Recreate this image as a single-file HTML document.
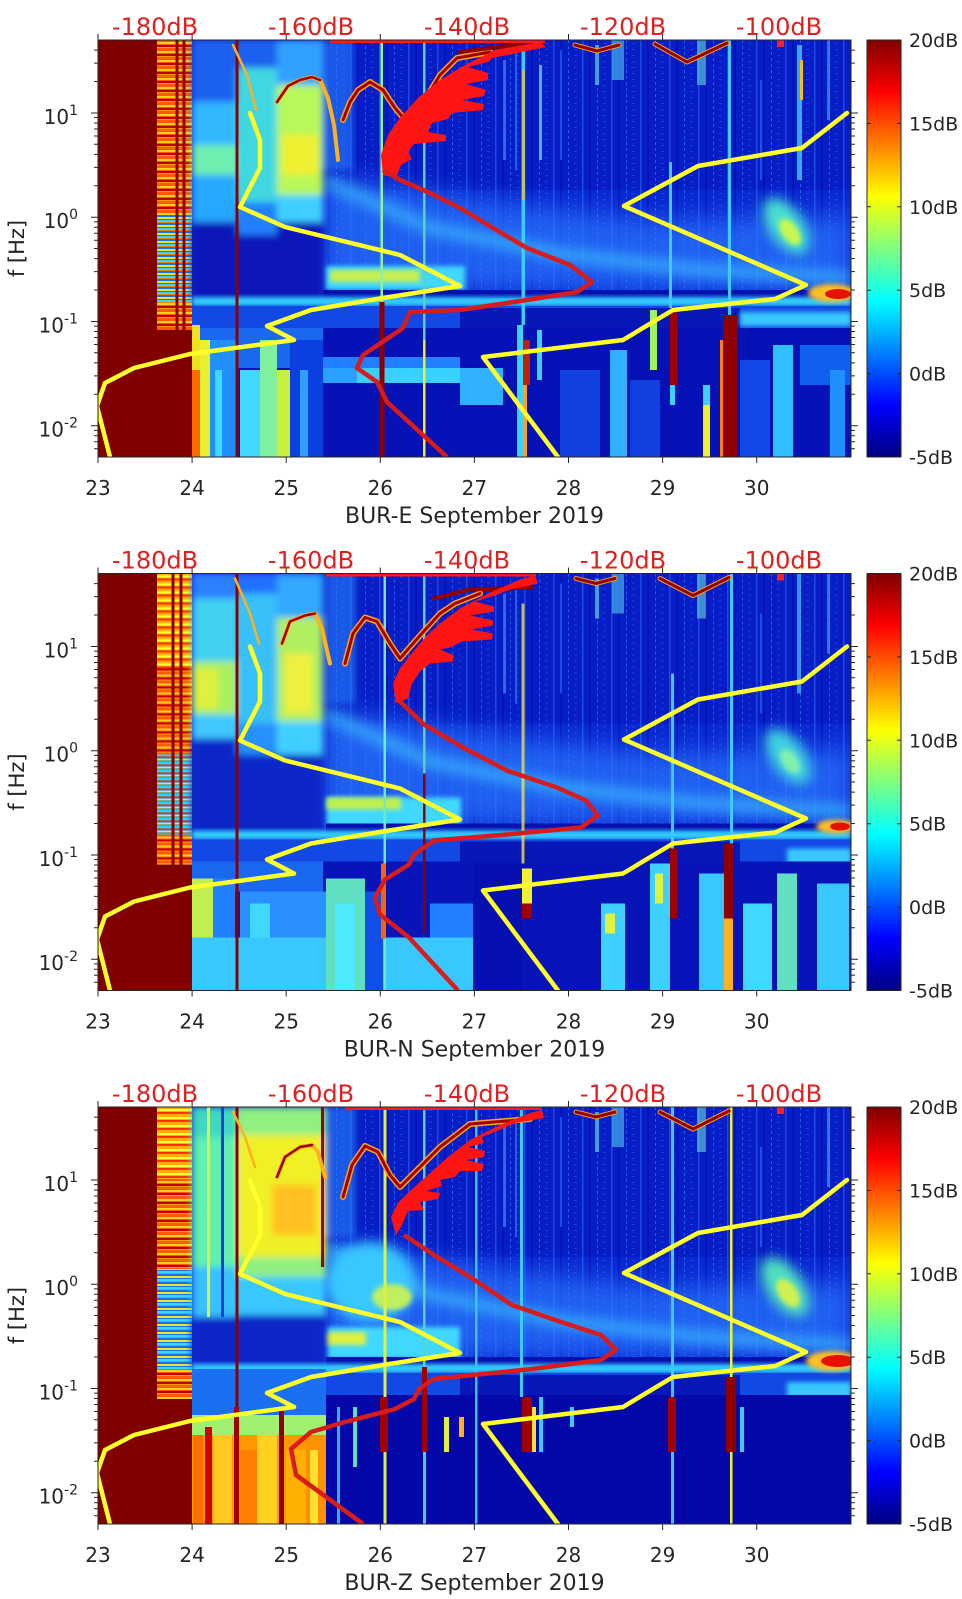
<!DOCTYPE html>
<html><head><meta charset="utf-8"><style>
html,body{margin:0;padding:0;background:#fff;}
svg{display:block;}
text{font-family:"DejaVu Sans","Liberation Sans",sans-serif;}
</style></head><body>
<svg width="962" height="1599" viewBox="0 0 962 1599" xmlns="http://www.w3.org/2000/svg">
<defs>
<clipPath id="pc"><rect x="98" y="0" width="753" height="417"/></clipPath>
<filter id="b3" x="-30%" y="-30%" width="160%" height="160%"><feGaussianBlur stdDeviation="2.5"/></filter>
<filter id="b4" x="-30%" y="-30%" width="160%" height="160%"><feGaussianBlur stdDeviation="3.5"/></filter>
<filter id="b6" x="-30%" y="-30%" width="160%" height="160%"><feGaussianBlur stdDeviation="6"/></filter>
<filter id="b12" x="-30%" y="-30%" width="160%" height="160%"><feGaussianBlur stdDeviation="12"/></filter>
<linearGradient id="jet" x1="0" y1="0" x2="0" y2="1">
<stop offset="0" stop-color="#800000"/><stop offset="0.125" stop-color="#ff0000"/><stop offset="0.375" stop-color="#ffff00"/><stop offset="0.625" stop-color="#00ffff"/><stop offset="0.875" stop-color="#0000ff"/><stop offset="1" stop-color="#000080"/>
</linearGradient>
<pattern id="s1" patternUnits="userSpaceOnUse" x="0" y="0" width="40" height="9">
<rect width="40" height="9" fill="#ff5a00"/><rect y="2" width="40" height="2" fill="#ffd21e"/><rect y="5" width="40" height="2" fill="#c00000"/><rect y="7" width="40" height="1" fill="#ffa000"/>
</pattern>
<pattern id="s2" patternUnits="userSpaceOnUse" x="0" y="0" width="40" height="8">
<rect width="40" height="8" fill="#1a70f0"/><rect y="1" width="40" height="2" fill="#f0e030"/><rect y="4" width="40" height="2" fill="#30d8ff"/><rect y="6" width="40" height="1" fill="#ff8000"/>
</pattern>
<pattern id="s3" patternUnits="userSpaceOnUse" x="0" y="0" width="40" height="8">
<rect width="40" height="8" fill="#ffb000"/><rect y="2" width="40" height="2" fill="#ffff40"/><rect y="5" width="40" height="2" fill="#ff3000"/>
</pattern>
<pattern id="nz" patternUnits="userSpaceOnUse" x="0" y="0" width="29" height="6">
<rect x="2" width="1.5" height="6" fill="#3a80ff" opacity=".45"/><rect x="9" width="2" height="6" fill="#0008a0" opacity=".4"/><rect x="17" width="1" height="3" fill="#40a0ff" opacity=".5"/><rect x="23" y="3" width="3" height="1" fill="#2860ff" opacity=".5"/>
</pattern>
<g id="yl" fill="none" stroke="#ffff2a" stroke-width="4.5" stroke-linejoin="round" stroke-linecap="round">
<polyline points="250,73 260,100 260,128 240,167 285,187 400,215 460,246 383,258 311,270 267,286 294,300 190,314 134,328 105,343 97,366 110,417"/>
<polyline points="847,73 802,108 698,126 624,166 806,245 775,259 673,270 623,300 483,317 558,417"/>
</g>
<g id="ax" fill="none" stroke="#262626" stroke-width="1">
<rect x="98" y="0" width="753" height="417"/>
<path d="M98,417v6M192.1,417v6M286.2,417v6M380.3,417v6M474.4,417v6M568.5,417v6M662.6,417v6M756.7,417v6M98,0v-6M192.1,0v-6M286.2,0v-6M380.3,0v-6M474.4,0v-6M568.5,0v-6M662.6,0v-6M756.7,0v-6"/>
<path d="M91,72.95h7M91,177.2h7M91,281.45h7M91,385.7h7M851,72.95h7M851,177.2h7M851,281.45h7M851,385.7h7"/>
<path d="M94,10.1h4M94,23.1h4M94,41.5h4M94,77.6h4M94,83h4M94,89h4M94,96h4M94,104.3h4M94,114.4h4M94,127.4h4M94,145.7h4M94,181.9h4M94,187.2h4M94,193.3h4M94,200.2h4M94,208.5h4M94,218.6h4M94,231.6h4M94,250h4M94,286.1h4M94,291.5h4M94,297.5h4M94,304.5h4M94,312.75h4M94,322.85h4M94,335.9h4M94,354.2h4M94,390.4h4M94,395.7h4M94,401.8h4M94,408.7h4"/>
<path d="M851,10.1h4M851,23.1h4M851,41.5h4M851,77.6h4M851,83h4M851,89h4M851,96h4M851,104.3h4M851,114.4h4M851,127.4h4M851,145.7h4M851,181.9h4M851,187.2h4M851,193.3h4M851,200.2h4M851,208.5h4M851,218.6h4M851,231.6h4M851,250h4M851,286.1h4M851,291.5h4M851,297.5h4M851,304.5h4M851,312.75h4M851,322.85h4M851,335.9h4M851,354.2h4M851,390.4h4M851,395.7h4M851,401.8h4M851,408.7h4"/>
<rect x="867" y="0" width="34" height="417" fill="url(#jet)"/>
<path d="M897,83.4h4M897,166.8h4M897,250.2h4M897,333.6h4M867,83.4h4M867,166.8h4M867,250.2h4M867,333.6h4"/>
</g>
<g id="rightcommon">
<rect x="323" y="0" width="528" height="150" fill="#0616bc" opacity=".55"/>
<rect x="323" y="0" width="528" height="250" fill="url(#nz)"/>
<polygon points="323,135 480,160 650,180 851,175 851,250 323,250" fill="#2a78ff" opacity=".7" filter="url(#b12)"/>
<polyline points="323,140 430,188 560,214 700,230 851,238" fill="none" stroke="#40c8ff" stroke-width="14" opacity=".6" filter="url(#b6)"/>
<rect x="503" y="20" width="3" height="100" fill="#40a0ff" opacity=".6"/>
<rect x="515" y="10" width="2" height="120" fill="#40a0ff" opacity=".5"/>
<rect x="595" y="5" width="4" height="40" fill="#60d0e0" opacity=".7"/>
<rect x="612" y="0" width="12" height="40" fill="#50c8f0" opacity=".6"/>
<rect x="697" y="0" width="9" height="45" fill="#60d8d0" opacity=".6"/>
<rect x="827" y="0" width="3" height="80" fill="#40b0ff" opacity=".6"/>
<rect x="560" y="10" width="2" height="110" fill="#3070ff" opacity=".6"/>
<rect x="760" y="40" width="2" height="100" fill="#3070ff" opacity=".6"/>
</g>
</defs>

<!-- ================= PANEL 1 ================= -->
<g transform="translate(0,40)">
<g clip-path="url(#pc)">
<rect x="98" y="0" width="753" height="417" fill="#0a28d2"/>
<use href="#rightcommon"/>
<ellipse cx="786" cy="186" rx="17" ry="32" transform="rotate(-35 786 186)" fill="#48e0d0" filter="url(#b6)"/>
<ellipse cx="790" cy="192" rx="8" ry="15" transform="rotate(-35 790 192)" fill="#c8f850" filter="url(#b3)"/>
<rect x="325" y="226" width="140" height="24" fill="#40d8ff" filter="url(#b3)"/>
<rect x="330" y="230" width="90" height="12" fill="#c8f050" filter="url(#b3)"/>
<rect x="323" y="250" width="528" height="8" fill="#0612b0"/>
<rect x="98" y="0" width="59" height="417" fill="#800000"/>
<rect x="157" y="290" width="35" height="127" fill="#800000"/>
<rect x="157" y="0" width="35" height="175" fill="url(#s1)"/>
<rect x="157" y="175" width="35" height="88" fill="url(#s2)"/>
<rect x="157" y="263" width="35" height="27" fill="url(#s1)"/>
<rect x="175.5" y="0" width="3" height="290" fill="#8a0000"/>
<rect x="182.5" y="0" width="3" height="290" fill="#8a0000"/>
<g filter="url(#b4)">
<rect x="192" y="0" width="131" height="262" fill="#0818b8"/>
<rect x="192" y="0" width="45" height="62" fill="#1a60f0"/>
<rect x="192" y="62" width="45" height="43" fill="#30b8ff"/>
<rect x="192" y="105" width="45" height="30" fill="#70f0b0"/>
<rect x="192" y="135" width="45" height="47" fill="#28a8ff"/>
<rect x="237" y="0" width="40" height="28" fill="#1a60f0"/>
<rect x="237" y="28" width="40" height="134" fill="#40d8e0"/>
<rect x="237" y="162" width="40" height="33" fill="#2080ff"/>
<rect x="277" y="0" width="46" height="45" fill="#30a0ff"/>
<rect x="277" y="45" width="46" height="110" fill="#b8f858"/>
<rect x="282" y="95" width="36" height="40" fill="#f0f030"/>
<rect x="277" y="155" width="46" height="27" fill="#40d0ff"/>
<rect x="323" y="0" width="30" height="130" fill="#2a80ff" opacity=".6"/>
</g>
<rect x="192" y="257" width="659" height="9" fill="#30d0ff" filter="url(#b3)"/>
<rect x="192" y="266" width="659" height="22" fill="#1248e4"/>
<rect x="460" y="268" width="280" height="20" fill="#0818b8"/>
<rect x="740" y="272" width="111" height="14" fill="#38c8ff" filter="url(#b3)"/>
<ellipse cx="832" cy="253" rx="24" ry="9" fill="#ffc020" filter="url(#b3)"/>
<ellipse cx="838" cy="254" rx="13" ry="5" fill="#e81000"/>
<rect x="192" y="288" width="659" height="129" fill="#0712b6"/>
<rect x="192" y="288" width="131" height="40" fill="#1a68f0"/>
<rect x="192" y="285" width="8" height="45" fill="#f0e020"/>
<rect x="192" y="330" width="8" height="87" fill="#ff6a00"/>
<rect x="200" y="300" width="10" height="117" fill="#e8f030"/>
<rect x="210" y="300" width="27" height="117" fill="#2090ff"/>
<rect x="215" y="330" width="7" height="87" fill="#40d8ff"/>
<rect x="240" y="330" width="20" height="87" fill="#40d8ff"/>
<rect x="260" y="300" width="17" height="117" fill="#80f0a0"/>
<rect x="277" y="330" width="13" height="87" fill="#c8f040"/>
<rect x="290" y="300" width="33" height="117" fill="#0a40e0"/>
<rect x="300" y="330" width="8" height="87" fill="#30a0ff"/>
<rect x="323" y="317" width="137" height="11" fill="#2080ff"/>
<rect x="323" y="328" width="34" height="15" fill="#2aa0ff"/>
<rect x="357" y="328" width="133" height="15" fill="#38d0ff"/>
<rect x="460" y="328" width="43" height="37" fill="#30b0ff"/>
<rect x="560" y="330" width="40" height="87" fill="#1040e0"/>
<rect x="630" y="340" width="30" height="77" fill="#1040e0"/>
<rect x="740" y="320" width="30" height="97" fill="#1248e8"/>
<rect x="517" y="285" width="6" height="132" fill="#40d0ff"/>
<rect x="523" y="300" width="7" height="45" fill="#c02000"/>
<rect x="523" y="345" width="4" height="72" fill="#ffa020"/>
<rect x="537" y="290" width="5" height="50" fill="#40d0ff"/>
<rect x="610" y="310" width="17" height="107" fill="#30b0ff"/>
<rect x="650" y="270" width="7" height="60" fill="#a0f060"/>
<rect x="669" y="122" width="3" height="146" fill="#40c8ff"/>
<rect x="670" y="270" width="7" height="75" fill="#a00000"/>
<rect x="670" y="345" width="5" height="20" fill="#40d0ff"/>
<rect x="703" y="345" width="7" height="20" fill="#40d0ff"/>
<rect x="703" y="365" width="7" height="52" fill="#f0f030"/>
<rect x="728" y="0" width="3" height="275" fill="#40c8ff"/>
<rect x="723" y="275" width="14" height="142" fill="#900000"/>
<rect x="720" y="300" width="3" height="117" fill="#ff8000"/>
<rect x="773" y="305" width="20" height="112" fill="#30c0ff"/>
<rect x="800" y="305" width="51" height="40" fill="#1060f0"/>
<rect x="830" y="330" width="15" height="87" fill="#2090ff"/>
<rect x="235.5" y="0" width="3" height="417" fill="#8a0000"/>
<rect x="380.5" y="0" width="2.5" height="262" fill="#90f0a0"/>
<rect x="379.5" y="262" width="5" height="155" fill="#8a0000"/>
<rect x="423" y="0" width="2.5" height="417" fill="#60d0c0"/>
<rect x="423" y="300" width="2.5" height="117" fill="#f0f030"/>
<rect x="521.5" y="0" width="3.5" height="285" fill="#40c8ff"/>
<rect x="522" y="30" width="3" height="130" fill="#f0c030" opacity=".7"/>
<rect x="539" y="25" width="3" height="95" fill="#60d8e0" opacity=".8"/>
<rect x="797" y="5" width="5" height="135" fill="#40c8ff" opacity=".8"/>
<rect x="800" y="20" width="3" height="40" fill="#f0c020"/>
<rect x="777" y="0" width="7" height="7" fill="#ff2020"/>
<g fill="none" stroke-linejoin="round" stroke-linecap="round">
<polyline points="233,5 247,35 256,70" stroke="#ffb020" stroke-width="2.5"/>
<polyline points="277,62 288,46 300,40 312,37 320,40 328,58 334,85 338,120" stroke="#ffb020" stroke-width="4"/>
<polyline points="277,62 288,46 300,40 312,37 320,40" stroke="#a00000" stroke-width="2.5"/>
<polyline points="343,80 350,62 358,50 370,42 383,50 395,68 407,82 420,68 440,35 457,18 490,12" stroke="#ffa020" stroke-width="6"/>
<polyline points="343,80 350,62 358,50 370,42 383,50 395,68 407,82 420,68 440,35 457,18 490,12" stroke="#a00000" stroke-width="3"/>
<polyline points="460,12 490,8 523,4" stroke="#900000" stroke-width="4"/>
<polyline points="575,5 597,11 619,5" stroke="#ffa020" stroke-width="5"/>
<polyline points="575,5 597,11 619,5" stroke="#900000" stroke-width="3"/>
<polyline points="655,4 687,22 727,3" stroke="#ffa020" stroke-width="5"/>
<polyline points="655,4 687,22 727,3" stroke="#900000" stroke-width="3"/>
</g>
<rect x="330" y="-2" width="215" height="5" fill="#ff1a1a"/>
<polygon points="383,135 381,115 388,95 400,78 418,58 440,40 465,25 495,10 540,2 546,7 512,14 492,18 488,22 468,27 488,33 488,40 466,44 486,50 484,56 462,60 484,64 483,70 452,73 448,79 432,83 428,92 446,95 446,101 414,104 408,112 412,119 401,125 396,138" fill="#ff1414"/>
<path d="M383,130 L400,140 L430,153 L460,168 L493,188 L527,208 L570,225 L592,242 L577,252 L527,260 L460,270 L410,272 L403,288 L363,315 L357,328 L377,342 L387,362 L447,417" fill="none" stroke="#d81c1c" stroke-width="4.5" stroke-linejoin="round"/>
<use href="#yl"/>
</g>
<use href="#ax"/>
<g font-size="24" fill="#dd2020" text-anchor="middle">
<text x="155" y="-5">-180dB</text><text x="311" y="-5">-160dB</text><text x="467" y="-5">-140dB</text><text x="623" y="-5">-120dB</text><text x="779" y="-5">-100dB</text>
</g>
<g font-size="20" fill="#262626" text-anchor="end">
<text x="78" y="84">10<tspan dy="-9" font-size="14">1</tspan></text>
<text x="78" y="188">10<tspan dy="-9" font-size="14">0</tspan></text>
<text x="78" y="292.5">10<tspan dy="-9" font-size="14">-1</tspan></text>
<text x="78" y="396.7">10<tspan dy="-9" font-size="14">-2</tspan></text>
</g>
<g font-size="20" fill="#262626" text-anchor="middle">
<text x="98" y="455">23</text><text x="192.1" y="455">24</text><text x="286.2" y="455">25</text><text x="380.3" y="455">26</text><text x="474.4" y="455">27</text><text x="568.5" y="455">28</text><text x="662.6" y="455">29</text><text x="756.7" y="455">30</text>
</g>
<text x="474.5" y="483" font-size="22" fill="#262626" text-anchor="middle">BUR-E September 2019</text>
<text transform="translate(18,208.5) rotate(-90)" x="0" y="6" font-size="21" fill="#262626" text-anchor="middle">f [Hz]</text>
<g font-size="19" fill="#262626">
<text x="909" y="7">20dB</text><text x="909" y="90.4">15dB</text><text x="909" y="173.8">10dB</text><text x="909" y="257.2">5dB</text><text x="909" y="340.6">0dB</text><text x="909" y="424">-5dB</text>
</g>
</g>

<!-- ================= PANEL 2 ================= -->
<g transform="translate(0,573.5)">
<g clip-path="url(#pc)">
<rect x="98" y="0" width="753" height="417" fill="#0a28d2"/>
<use href="#rightcommon"/>
<ellipse cx="788" cy="183" rx="17" ry="32" transform="rotate(-35 788 183)" fill="#40d0e0" filter="url(#b6)"/>
<ellipse cx="790" cy="188" rx="8" ry="14" transform="rotate(-35 790 188)" fill="#80f0b0" filter="url(#b3)"/>
<rect x="326" y="224" width="135" height="30" fill="#40d8ff" filter="url(#b3)"/>
<rect x="326" y="224" width="75" height="12" fill="#c0f050" filter="url(#b3)"/>
<rect x="326" y="250" width="525" height="8" fill="#0612b0"/>
<rect x="98" y="0" width="59" height="417" fill="#800000"/>
<rect x="157" y="291" width="35" height="126" fill="#800000"/>
<rect x="157" y="0" width="35" height="95" fill="url(#s3)"/>
<rect x="157" y="95" width="35" height="86" fill="url(#s1)"/>
<rect x="157" y="181" width="35" height="80" fill="url(#s2)"/>
<rect x="157" y="261" width="35" height="30" fill="url(#s1)"/>
<rect x="171.5" y="0" width="3" height="291" fill="#8a0000"/>
<rect x="179.5" y="0" width="3" height="291" fill="#8a0000"/>
<g filter="url(#b4)">
<rect x="192" y="0" width="131" height="262" fill="#0a28c8"/>
<rect x="192" y="0" width="45" height="25" fill="#2a80ff"/>
<rect x="192" y="25" width="45" height="63" fill="#40d0f0"/>
<rect x="192" y="88" width="45" height="53" fill="#a8f060"/>
<rect x="194" y="95" width="24" height="40" fill="#e0f040"/>
<rect x="192" y="141" width="45" height="24" fill="#40c8ff"/>
<rect x="237" y="0" width="40" height="20" fill="#2070ff"/>
<rect x="237" y="20" width="40" height="130" fill="#38c0f8"/>
<rect x="237" y="150" width="40" height="31" fill="#2890ff"/>
<rect x="277" y="0" width="46" height="44" fill="#30a8ff"/>
<rect x="277" y="44" width="46" height="104" fill="#b0f060"/>
<rect x="285" y="80" width="27" height="60" fill="#f0f040"/>
<rect x="277" y="148" width="46" height="33" fill="#40d0ff"/>
<rect x="326" y="0" width="30" height="130" fill="#2a80ff" opacity=".6"/>
</g>
<rect x="192" y="257" width="659" height="9" fill="#30d0ff" filter="url(#b3)"/>
<rect x="192" y="266" width="659" height="22" fill="#1248e4"/>
<rect x="460" y="268" width="280" height="20" fill="#0818b8"/>
<rect x="787" y="275" width="64" height="16" fill="#38c8ff" filter="url(#b3)"/>
<ellipse cx="836" cy="253" rx="20" ry="7" fill="#ffc020" filter="url(#b3)"/>
<ellipse cx="840" cy="253" rx="10" ry="4" fill="#e81000"/>
<rect x="192" y="288" width="659" height="129" fill="#0814b8"/>
<rect x="192" y="288" width="131" height="30" fill="#1a68f0"/>
<rect x="192" y="305" width="21" height="112" fill="#c0f050"/>
<rect x="213" y="305" width="22" height="112" fill="#2080ff"/>
<rect x="240" y="318" width="86" height="46" fill="#2a90ff"/>
<rect x="192" y="364" width="290" height="53" fill="#38c8ff"/>
<rect x="250" y="330" width="20" height="34" fill="#40d8ff"/>
<rect x="326" y="305" width="39" height="112" fill="#60e0c0"/>
<rect x="335" y="330" width="20" height="87" fill="#50e8ff"/>
<rect x="365" y="318" width="18" height="99" fill="#1050e8"/>
<rect x="430" y="330" width="43" height="34" fill="#2080ff"/>
<rect x="473" y="290" width="49" height="127" fill="#0610b0"/>
<rect x="601" y="330" width="24" height="87" fill="#40d0ff"/>
<rect x="605" y="340" width="10" height="20" fill="#e0f040"/>
<rect x="650" y="290" width="20" height="127" fill="#40d0ff"/>
<rect x="655" y="300" width="8" height="30" fill="#e0f040"/>
<rect x="699" y="300" width="25" height="117" fill="#38c8ff"/>
<rect x="743" y="330" width="29" height="87" fill="#40d8ff"/>
<rect x="777" y="300" width="20" height="117" fill="#60e0c0"/>
<rect x="817" y="310" width="32" height="107" fill="#38c8ff"/>
<rect x="522" y="295" width="10" height="35" fill="#f0f030"/>
<rect x="522" y="330" width="10" height="15" fill="#a00000"/>
<rect x="670" y="275" width="7" height="70" fill="#a00000"/>
<rect x="724" y="270" width="9" height="75" fill="#900000"/>
<rect x="724" y="345" width="9" height="72" fill="#ffb020"/>
<rect x="235.5" y="0" width="3" height="417" fill="#8a0000"/>
<rect x="383.5" y="0" width="2.5" height="417" fill="#70e8c0"/>
<rect x="381" y="290" width="5" height="75" fill="#ff6000"/>
<rect x="423" y="0" width="2.5" height="360" fill="#60d0c0"/>
<rect x="423" y="200" width="2.5" height="160" fill="#8a0000"/>
<rect x="521.5" y="30" width="3" height="260" fill="#f0e040" opacity=".8"/>
<rect x="671" y="100" width="3" height="175" fill="#40c8ff"/>
<rect x="730" y="0" width="3" height="270" fill="#40c8ff"/>
<rect x="797" y="0" width="4" height="120" fill="#40c8ff" opacity=".7"/>
<rect x="777" y="0" width="7" height="7" fill="#ff2020"/>
<g fill="none" stroke-linejoin="round" stroke-linecap="round">
<polyline points="235,5 250,40 259,70" stroke="#ffb020" stroke-width="2.5"/>
<polyline points="282,70 290,48 305,42 315,40 322,55 330,90" stroke="#ffb020" stroke-width="4"/>
<polyline points="282,70 290,48 305,42 315,40" stroke="#a00000" stroke-width="2.5"/>
<polyline points="345,90 353,60 365,44 377,48 390,70 400,85 420,62 440,40 455,30 480,20" stroke="#ffa020" stroke-width="6"/>
<polyline points="345,90 353,60 365,44 377,48 390,70 400,85 420,62 440,40 455,30 480,20" stroke="#a00000" stroke-width="3"/>
<polyline points="434,25 470,16 532,14" stroke="#900000" stroke-width="4"/>
<polyline points="576,5 596,10 615,5" stroke="#ffa020" stroke-width="5"/>
<polyline points="576,5 596,10 615,5" stroke="#900000" stroke-width="3"/>
<polyline points="660,5 693,22 729,4" stroke="#ffa020" stroke-width="5"/>
<polyline points="660,5 693,22 729,4" stroke="#900000" stroke-width="3"/>
</g>
<rect x="326" y="-2" width="210" height="5" fill="#ff1a1a"/>
<polygon points="396,130 393,110 400,95 410,82 425,64 440,50 460,35 488,20 520,6 535,2 538,10 510,16 495,22 475,28 494,33 494,38 470,42 493,47 493,52 472,56 493,60 492,66 462,68 450,74 440,76 454,82 453,88 430,90 420,98 412,110 408,125" fill="#ff1414"/>
<path d="M399,127 L424,151 L463,174 L507,197 L557,214 L586,227 L598,242 L581,254 L507,261 L434,267 L414,281 L409,291 L385,306 L375,324 L380,341 L409,364 L458,417" fill="none" stroke="#d81c1c" stroke-width="4.5" stroke-linejoin="round"/>
<use href="#yl"/>
</g>
<use href="#ax"/>
<g font-size="24" fill="#dd2020" text-anchor="middle">
<text x="155" y="-5">-180dB</text><text x="311" y="-5">-160dB</text><text x="467" y="-5">-140dB</text><text x="623" y="-5">-120dB</text><text x="779" y="-5">-100dB</text>
</g>
<g font-size="20" fill="#262626" text-anchor="end">
<text x="78" y="84">10<tspan dy="-9" font-size="14">1</tspan></text>
<text x="78" y="188">10<tspan dy="-9" font-size="14">0</tspan></text>
<text x="78" y="292.5">10<tspan dy="-9" font-size="14">-1</tspan></text>
<text x="78" y="396.7">10<tspan dy="-9" font-size="14">-2</tspan></text>
</g>
<g font-size="20" fill="#262626" text-anchor="middle">
<text x="98" y="455">23</text><text x="192.1" y="455">24</text><text x="286.2" y="455">25</text><text x="380.3" y="455">26</text><text x="474.4" y="455">27</text><text x="568.5" y="455">28</text><text x="662.6" y="455">29</text><text x="756.7" y="455">30</text>
</g>
<text x="474.5" y="483" font-size="22" fill="#262626" text-anchor="middle">BUR-N September 2019</text>
<text transform="translate(18,208.5) rotate(-90)" x="0" y="6" font-size="21" fill="#262626" text-anchor="middle">f [Hz]</text>
<g font-size="19" fill="#262626">
<text x="909" y="7">20dB</text><text x="909" y="90.4">15dB</text><text x="909" y="173.8">10dB</text><text x="909" y="257.2">5dB</text><text x="909" y="340.6">0dB</text><text x="909" y="424">-5dB</text>
</g>
</g>

<!-- ================= PANEL 3 ================= -->
<g transform="translate(0,1107)">
<g clip-path="url(#pc)">
<rect x="98" y="0" width="753" height="417" fill="#0a28d2"/>
<use href="#rightcommon"/>
<ellipse cx="785" cy="180" rx="18" ry="34" transform="rotate(-35 785 180)" fill="#50e0c0" filter="url(#b6)"/>
<ellipse cx="788" cy="186" rx="9" ry="16" transform="rotate(-35 788 186)" fill="#d0f050" filter="url(#b3)"/>
<ellipse cx="370" cy="175" rx="45" ry="40" fill="#38c8ff" filter="url(#b6)"/>
<ellipse cx="392" cy="190" rx="20" ry="13" fill="#c0f060" filter="url(#b3)"/>
<rect x="326" y="220" width="134" height="32" fill="#40d8ff" filter="url(#b3)"/>
<rect x="326" y="225" width="40" height="13" fill="#e0f040" filter="url(#b3)"/>
<rect x="326" y="250" width="525" height="8" fill="#0612b0"/>
<rect x="98" y="0" width="59" height="417" fill="#800000"/>
<rect x="157" y="292" width="35" height="125" fill="#800000"/>
<rect x="157" y="0" width="35" height="72" fill="url(#s3)"/>
<rect x="157" y="72" width="35" height="90" fill="url(#s1)"/>
<rect x="157" y="162" width="35" height="100" fill="url(#s2)"/>
<rect x="157" y="262" width="35" height="30" fill="url(#s1)"/>
<g filter="url(#b4)">
<rect x="192" y="0" width="134" height="262" fill="#0a28c8"/>
<rect x="192" y="0" width="45" height="30" fill="#40d8c0"/>
<rect x="192" y="30" width="45" height="130" fill="#60f0b0"/>
<rect x="192" y="160" width="45" height="50" fill="#38c0ff"/>
<rect x="237" y="0" width="89" height="28" fill="#90f080"/>
<rect x="237" y="28" width="89" height="122" fill="#f0f028"/>
<rect x="272" y="78" width="44" height="50" fill="#ffc020"/>
<rect x="237" y="150" width="89" height="20" fill="#90f080"/>
<rect x="237" y="170" width="89" height="38" fill="#38c8ff"/>
<rect x="326" y="0" width="30" height="130" fill="#2a80ff" opacity=".6"/>
</g>
<rect x="207" y="0" width="3" height="210" fill="#e0f040"/>
<rect x="221" y="0" width="3" height="210" fill="#1040e0"/>
<rect x="192" y="257" width="659" height="9" fill="#30d0ff" filter="url(#b3)"/>
<rect x="192" y="266" width="659" height="22" fill="#1248e4"/>
<rect x="460" y="268" width="280" height="20" fill="#0818b8"/>
<rect x="787" y="275" width="64" height="16" fill="#38c8ff" filter="url(#b3)"/>
<ellipse cx="832" cy="254" rx="26" ry="10" fill="#ffc020" filter="url(#b3)"/>
<ellipse cx="838" cy="254" rx="17" ry="6" fill="#e81000"/>
<rect x="326" y="288" width="525" height="129" fill="#0408a8"/>
<rect x="192" y="262" width="134" height="46" fill="#1a70f0"/>
<rect x="192" y="308" width="134" height="20" fill="#a0f070"/>
<rect x="192" y="328" width="134" height="89" fill="#ff9800"/>
<rect x="193" y="328" width="10" height="89" fill="#ff7000"/>
<rect x="205" y="320" width="7" height="97" fill="#d00000"/>
<rect x="213" y="328" width="19" height="89" fill="#ffc820"/>
<rect x="240" y="343" width="17" height="74" fill="#ff8000"/>
<rect x="257" y="328" width="20" height="89" fill="#ffd020"/>
<rect x="279" y="300" width="5" height="117" fill="#900000"/>
<rect x="286" y="343" width="20" height="74" fill="#ffb000"/>
<rect x="306" y="328" width="20" height="89" fill="#ff9000"/>
<rect x="310" y="343" width="8" height="74" fill="#ffe030"/>
<rect x="337" y="300" width="3" height="117" fill="#30b0ff"/>
<rect x="353" y="300" width="4" height="60" fill="#60e0c0"/>
<rect x="383.5" y="0" width="3" height="417" fill="#e0f040"/>
<rect x="380" y="290" width="8" height="55" fill="#a00000"/>
<rect x="422" y="260" width="5" height="85" fill="#a00000"/>
<rect x="423" y="345" width="3" height="72" fill="#40d0ff"/>
<rect x="423" y="0" width="2.5" height="260" fill="#60d0c0"/>
<rect x="444" y="310" width="5" height="35" fill="#e0f040"/>
<rect x="459" y="310" width="5" height="20" fill="#ffb020"/>
<rect x="475" y="0" width="2.5" height="417" fill="#40c0ff"/>
<rect x="520" y="0" width="3" height="290" fill="#40c8ff"/>
<rect x="522" y="290" width="10" height="55" fill="#a00000"/>
<rect x="532" y="300" width="4" height="45" fill="#f0e040"/>
<rect x="539" y="290" width="4" height="55" fill="#40c8ff"/>
<rect x="570" y="300" width="4" height="20" fill="#40c8ff"/>
<rect x="671" y="0" width="3" height="417" fill="#40c8ff"/>
<rect x="668" y="290" width="8" height="55" fill="#a00000"/>
<rect x="730" y="0" width="2.5" height="417" fill="#f0f030"/>
<rect x="726" y="270" width="10" height="75" fill="#900000"/>
<rect x="740" y="300" width="4" height="45" fill="#40c8ff"/>
<rect x="235.5" y="0" width="3" height="417" fill="#8a0000"/>
<rect x="234" y="300" width="5" height="117" fill="#a00000"/>
<rect x="321" y="0" width="3" height="160" fill="#a00000"/>
<rect x="777" y="0" width="7" height="7" fill="#ff2020"/>
<g fill="none" stroke-linejoin="round" stroke-linecap="round">
<polyline points="233,5 245,30 255,60" stroke="#ffb020" stroke-width="2.5"/>
<polyline points="277,70 285,50 300,40 312,38 318,45 325,70" stroke="#ffb020" stroke-width="4"/>
<polyline points="277,70 285,50 300,40 312,38" stroke="#a00000" stroke-width="2.5"/>
<polyline points="343,90 352,58 365,39 378,45 390,68 400,80 420,60 440,40 470,17 530,12" stroke="#ffa020" stroke-width="6"/>
<polyline points="343,90 352,58 365,39 378,45 390,68 400,80 420,60 440,40 470,17 530,12" stroke="#a00000" stroke-width="3"/>
<polyline points="576,5 596,10 615,5" stroke="#ffa020" stroke-width="5"/>
<polyline points="576,5 596,10 615,5" stroke="#900000" stroke-width="3"/>
<polyline points="660,5 693,22 729,4" stroke="#ffa020" stroke-width="5"/>
<polyline points="660,5 693,22 729,4" stroke="#900000" stroke-width="3"/>
</g>
<rect x="345" y="-2" width="197" height="5" fill="#ff1a1a"/>
<polygon points="396,128 391,110 398,96 410,84 428,68 448,50 470,33 500,18 530,6 542,3 544,11 515,16 497,24 482,30 484,36 468,40 485,44 484,50 466,53 484,57 482,64 460,64 455,70 440,73 442,79 426,84 440,86 438,92 420,95 424,103 408,104 402,118" fill="#ff1414"/>
<path d="M404,128 L434,148 L473,172 L512,198 L561,215 L601,228 L616,243 L601,253 L532,262 L434,272 L419,282 L414,292 L395,302 L345,315 L311,325 L291,342 L296,368 L363,417" fill="none" stroke="#d81c1c" stroke-width="4.5" stroke-linejoin="round"/>
<use href="#yl"/>
</g>
<use href="#ax"/>
<g font-size="24" fill="#dd2020" text-anchor="middle">
<text x="155" y="-5">-180dB</text><text x="311" y="-5">-160dB</text><text x="467" y="-5">-140dB</text><text x="623" y="-5">-120dB</text><text x="779" y="-5">-100dB</text>
</g>
<g font-size="20" fill="#262626" text-anchor="end">
<text x="78" y="84">10<tspan dy="-9" font-size="14">1</tspan></text>
<text x="78" y="188">10<tspan dy="-9" font-size="14">0</tspan></text>
<text x="78" y="292.5">10<tspan dy="-9" font-size="14">-1</tspan></text>
<text x="78" y="396.7">10<tspan dy="-9" font-size="14">-2</tspan></text>
</g>
<g font-size="20" fill="#262626" text-anchor="middle">
<text x="98" y="455">23</text><text x="192.1" y="455">24</text><text x="286.2" y="455">25</text><text x="380.3" y="455">26</text><text x="474.4" y="455">27</text><text x="568.5" y="455">28</text><text x="662.6" y="455">29</text><text x="756.7" y="455">30</text>
</g>
<text x="474.5" y="483" font-size="22" fill="#262626" text-anchor="middle">BUR-Z September 2019</text>
<text transform="translate(18,208.5) rotate(-90)" x="0" y="6" font-size="21" fill="#262626" text-anchor="middle">f [Hz]</text>
<g font-size="19" fill="#262626">
<text x="909" y="7">20dB</text><text x="909" y="90.4">15dB</text><text x="909" y="173.8">10dB</text><text x="909" y="257.2">5dB</text><text x="909" y="340.6">0dB</text><text x="909" y="424">-5dB</text>
</g>
</g>
</svg>
</body></html>
